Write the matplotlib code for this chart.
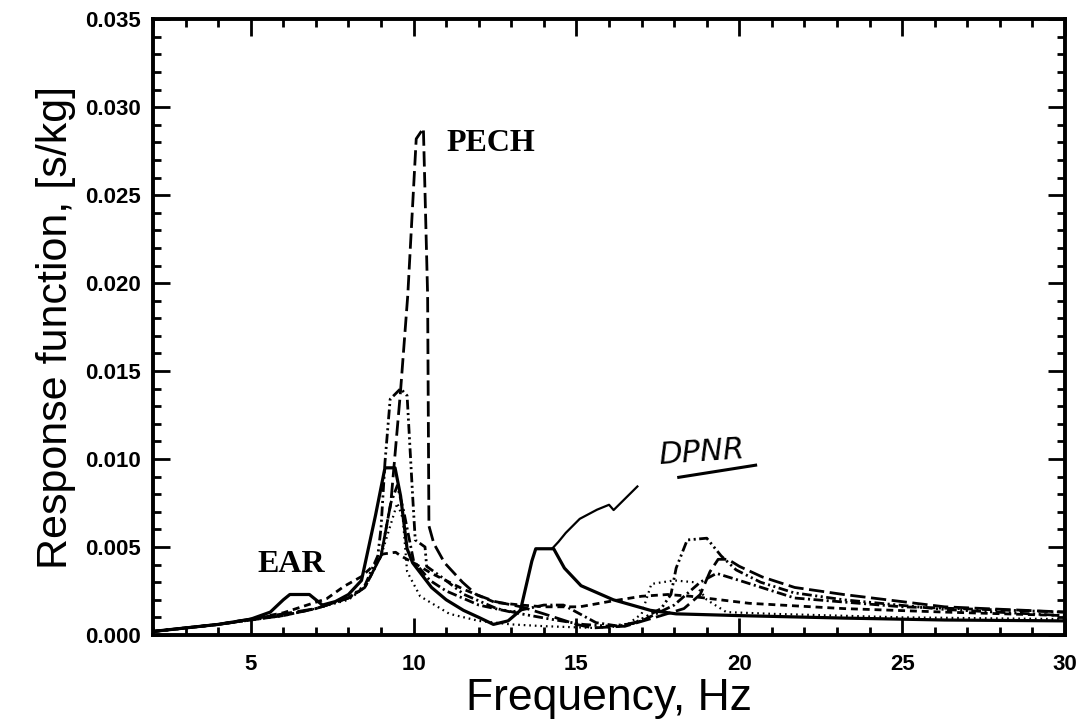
import matplotlib
matplotlib.use("Agg")
import matplotlib.pyplot as plt
from matplotlib.ticker import MultipleLocator, FixedLocator

plt.rcParams["lines.scale_dashes"] = False

# Frequencies (Hz) and response (s/kg)

# solid curve (EAR bump ~6.5 Hz, DPNR peak ~14 Hz)
f_solid = [2, 3, 4, 5, 5.6, 6.0, 6.2, 6.8, 7.2, 7.6, 8.0, 8.4, 8.83, 9.12, 9.43,
           9.6, 9.8, 9.97, 10.55, 11.0, 11.53, 12.0, 12.45, 12.9, 13.28, 13.63,
           13.75, 14.3, 14.63, 15.14, 16.13, 17.27, 18.06, 20, 23.2, 26.3, 30]
r_solid = [0.0002, 0.0004, 0.0006, 0.0009, 0.0013, 0.0020, 0.0023, 0.0023, 0.0017,
           0.0019, 0.0023, 0.0031, 0.0068, 0.0095, 0.0095, 0.0079, 0.0049, 0.0041,
           0.0027, 0.0020, 0.0014, 0.0010, 0.0006, 0.0008, 0.0014, 0.0042, 0.0049,
           0.0049, 0.0038, 0.0028, 0.0020, 0.0014, 0.0012, 0.0011, 0.00096, 0.00085,
           0.0008]

# long dashed (PECH)
f_pech = [2, 4, 6, 7, 8, 8.5, 9.0, 9.3, 9.6, 9.82, 10.08, 10.3, 10.43, 10.47, 10.62,
          10.95, 11.5, 11.92, 12.5, 13.3, 14, 15, 15.5, 16.5, 17.6, 18.3, 18.8, 19.1,
          19.35, 19.65, 20.0, 20.7, 21.7, 23.2, 26.3, 30]
r_pech = [0.0002, 0.0006, 0.0012, 0.0015, 0.0021, 0.0027, 0.0045, 0.0075, 0.0139,
          0.0193, 0.0282, 0.0288, 0.0193, 0.0062, 0.0052, 0.0041, 0.0030, 0.0023,
          0.0019, 0.0016, 0.0012, 0.0006, 0.0004, 0.0005, 0.0011, 0.0015, 0.0023,
          0.0036, 0.0043, 0.0043, 0.0039, 0.0033, 0.0027, 0.0023, 0.0016, 0.0013]

# dash-dot-dot (peak ~0.014)
f_ddd = [2, 4, 6, 7, 8, 8.5, 8.9, 9.0, 9.12, 9.28, 9.6, 9.8, 9.97, 10.05, 10.35,
         10.4, 10.85, 11.55, 12.55, 13.3, 14.2, 15.2, 16.0, 16.75, 17.6, 17.9, 18.06,
         18.4, 19.0, 19.44, 19.9, 20.65, 21.67, 23.2, 26.3, 30]
r_ddd = [0.0002, 0.0006, 0.0011, 0.0015, 0.0021, 0.0028, 0.0045, 0.0061, 0.0098,
         0.0134, 0.0140, 0.0136, 0.0079, 0.0054, 0.0050, 0.0039, 0.0033, 0.0023,
         0.0015, 0.0012, 0.0009, 0.0006, 0.0005, 0.00065, 0.0015, 0.0023, 0.0038,
         0.0054, 0.0055, 0.0045, 0.0037, 0.0030, 0.0024, 0.0020, 0.00145, 0.0011]

# short dashed (broad peak ~0.0047)
f_sd = [2, 4, 5, 6.0, 7.33, 7.87, 8.4, 8.8, 9.05, 9.45, 9.6, 10.0, 10.55, 11.53,
        12.5, 13.3, 14.0, 15.1, 16.0, 17.0, 17.8, 18.5, 20.3, 23.2, 26.3, 30]
r_sd = [0.0002, 0.0006, 0.0009, 0.00126, 0.00206, 0.00277, 0.00332, 0.0040, 0.0046,
        0.0047, 0.0045, 0.0041, 0.0035, 0.0026, 0.00185, 0.0017, 0.0016, 0.0016,
        0.0019, 0.0022, 0.0023, 0.0022, 0.0018, 0.0015, 0.0013, 0.0011]

# dotted
f_dot = [2, 4, 6, 7, 8, 8.5, 9.0, 9.5, 9.67, 9.8, 10.2, 11.1, 12, 13, 14, 15.5,
         16.5, 17.0, 17.3, 18.0, 18.6, 19.0, 19.6, 21, 25, 30]
r_dot = [0.0002, 0.0006, 0.0011, 0.0015, 0.0020, 0.0027, 0.0045, 0.0075, 0.0066,
         0.0036, 0.0022, 0.0012, 0.0008, 0.0006, 0.0005, 0.0004, 0.0005, 0.0012,
         0.0029, 0.0031, 0.0030, 0.0020, 0.0013, 0.0012, 0.0010, 0.0009]

# dash-dot
f_dd = [2, 4, 6, 7, 8, 8.5, 9.0, 9.3, 9.5, 9.7, 10.0, 10.5, 11, 12, 13, 13.5, 14.0,
        14.6, 15.6, 16.3, 17, 18, 18.8, 19.3, 20, 21.7, 25, 30]
r_dd = [0.0002, 0.0006, 0.0011, 0.0015, 0.0021, 0.0027, 0.0045, 0.0075, 0.0085,
        0.0070, 0.0042, 0.0031, 0.0025, 0.0017, 0.0013, 0.0015, 0.0017, 0.0017,
        0.0007, 0.0005, 0.0008, 0.0017, 0.0030, 0.0035, 0.0031, 0.0021, 0.0016,
        0.0013]

# hand drawn DPNR pointer and underline
ptr_f = [14.25, 14.45, 14.67, 15.1, 15.63, 16.0, 16.14, 16.87]
ptr_r = [0.0049, 0.0053, 0.0058, 0.0066, 0.00712, 0.0074, 0.0071, 0.00844]
und_f = [18.14, 20.5]
und_r = [0.00896, 0.00965]

xticks = [5, 10, 15, 20, 25, 30]
yticks = [0.000, 0.005, 0.010, 0.015, 0.020, 0.025, 0.030, 0.035]

fig = plt.figure(figsize=(10.87, 7.27), dpi=100)
ax = fig.add_axes([0.1408, 0.1266, 0.839, 0.847])

ax.plot(f_solid, r_solid, color="black", lw=2.3)
ax.plot(f_pech, r_pech, color="black", lw=2.0, dashes=(11, 4))
ax.plot(f_ddd, r_ddd, color="black", lw=2.0, dashes=(7, 2.5, 1.5, 2.5, 1.5, 2.5))
ax.plot(f_sd, r_sd, color="black", lw=2.0, dashes=(5, 3.5))
ax.plot(f_dot, r_dot, color="black", lw=1.6, dashes=(1.2, 2.8))
ax.plot(f_dd, r_dd, color="black", lw=2.0, dashes=(7, 2.5, 1.5, 2.5))

ax.plot(ptr_f, ptr_r, color="black", lw=1.6)
ax.plot(und_f, und_r, color="black", lw=2.2)

ax.text(11.0, 0.0275, "PECH", family="Liberation Serif", fontweight="bold",
        fontsize=23, ha="left", va="baseline")
ax.text(5.2, 0.0036, "EAR", family="Liberation Serif", fontweight="bold",
        fontsize=23, ha="left", va="baseline")
ax.text(17.5, 0.0097, "DPNR", family="DejaVu Sans", style="italic",
        fontweight="light", fontsize=22, ha="left", va="baseline", rotation=4)

ax.set_xlim(2, 30)
ax.set_ylim(0, 0.035)
ax.xaxis.set_major_locator(FixedLocator(xticks))
ax.xaxis.set_minor_locator(MultipleLocator(1))
ax.yaxis.set_major_locator(FixedLocator(yticks))
ax.yaxis.set_minor_locator(MultipleLocator(0.001))
ax.set_yticklabels(["%.3f" % v for v in yticks])

ax.tick_params(which="both", direction="in", top=True, right=True, width=2)
ax.tick_params(which="major", length=12)
ax.tick_params(which="minor", length=6)
ax.tick_params(axis="x", which="major", pad=14)
ax.tick_params(axis="y", which="major", pad=9)
for lab in ax.get_xticklabels() + ax.get_yticklabels():
    lab.set_family("Liberation Sans")
    lab.set_fontweight("bold")
    lab.set_fontsize(16)
for sp in ax.spines.values():
    sp.set_linewidth(2.8)

ax.set_xlabel("Frequency, Hz", family="Liberation Sans", fontsize=32, labelpad=2)
ax.set_ylabel("Response function, [s/kg]", family="Liberation Sans", fontsize=31,
              labelpad=6)

fig.savefig("out.png", dpi=100)
